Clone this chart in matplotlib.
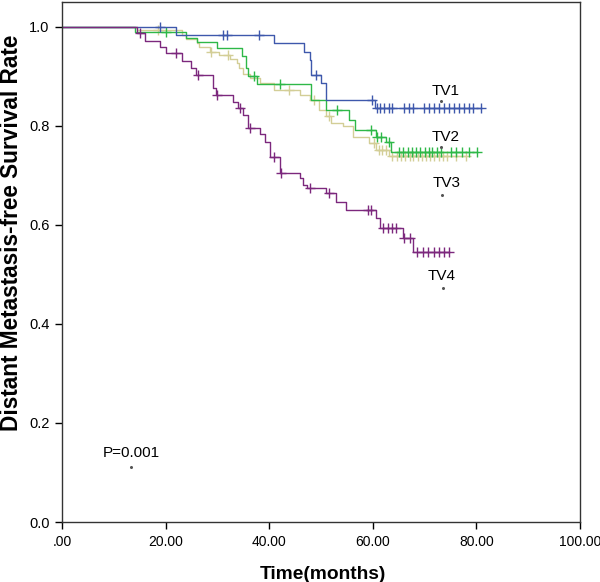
import matplotlib
matplotlib.use("Agg")
import matplotlib.pyplot as plt
import numpy as np

plt.rcParams['font.family'] = ['Liberation Sans', 'DejaVu Sans']

# ---- data ----
groups = ["TV1", "TV2", "TV3", "TV4"]

tv1_t = [22.1, 40.9, 46.8, 47.8, 48.1, 50.0, 51.0, 60.5]
tv1_s = [0.984, 0.967, 0.950, 0.933, 0.903, 0.886, 0.853, 0.836]
tv1_c = [19.0, 31.0, 31.8, 38.0, 49.1, 59.9, 60.8, 61.4, 62.2, 63.1, 63.8, 66.1, 67.0,
         67.7, 69.9, 70.9, 71.9, 72.8, 73.8, 74.8, 75.7, 76.7, 77.7, 78.6, 79.3, 80.9]

tv2_t = [14.1, 24.0, 26.0, 30.0, 34.8, 35.5, 36.0, 37.7, 48.1, 51.0, 55.5, 56.5, 60.6, 62.5, 63.6]
tv2_s = [0.990, 0.978, 0.969, 0.957, 0.940, 0.917, 0.900, 0.884, 0.853, 0.832, 0.812,
         0.792, 0.778, 0.768, 0.748]
tv2_c = [20.0, 37.0, 42.0, 53.0, 59.7, 60.9, 61.6, 63.2, 65.1, 65.9, 66.7, 67.6, 68.4,
         69.1, 70.0, 70.9, 71.5, 72.3, 73.2, 75.1, 76.1, 77.3, 78.6, 80.2]

tv3_t = [14.5, 23.1, 24.0, 26.0, 26.5, 28.5, 30.4, 32.4, 33.7, 34.2, 35.0, 36.2, 38.2,
         41.0, 45.9, 47.8, 49.7, 50.9, 51.9, 54.2, 56.1, 59.3, 60.6, 63.2]
tv3_s = [0.993, 0.984, 0.975, 0.967, 0.960, 0.950, 0.943, 0.935, 0.926, 0.917, 0.905,
         0.896, 0.886, 0.873, 0.862, 0.853, 0.832, 0.819, 0.805, 0.799, 0.778, 0.765,
         0.752, 0.739]
tv3_c = [18.5, 28.8, 32.0, 43.9, 48.7, 51.6, 60.2, 61.2, 61.8, 62.5, 63.8, 64.6, 65.4,
         66.3, 67.1, 67.8, 68.7, 69.5, 70.3, 71.0, 71.9, 72.7, 73.5, 74.4, 76.1, 78.0]

tv4_t = [14.4, 16.0, 18.9, 20.0, 23.1, 25.0, 25.9, 29.2, 29.7, 33.0, 34.0, 34.9, 35.9,
         38.2, 39.1, 40.1, 42.0, 45.9, 46.5, 47.3, 51.0, 52.9, 54.9, 60.6, 61.3, 65.8, 67.7]
tv4_s = [0.987, 0.972, 0.960, 0.947, 0.931, 0.917, 0.903, 0.876, 0.863, 0.849, 0.836,
         0.822, 0.795, 0.784, 0.768, 0.738, 0.704, 0.694, 0.681, 0.674, 0.664, 0.647,
         0.630, 0.613, 0.593, 0.573, 0.546]
tv4_c = [15.0, 22.1, 26.2, 30.0, 34.3, 36.2, 41.0, 42.3, 47.8, 51.6, 59.0, 59.7, 61.9,
         62.9, 63.7, 64.5, 66.0, 67.1, 68.6, 69.6, 70.6, 71.9, 72.8, 73.8, 74.8]

x_ticks = [0, 20, 40, 60, 80, 100]
x_tick_labels = [".00", "20.00", "40.00", "60.00", "80.00", "100.00"]
y_ticks = [0.0, 0.2, 0.4, 0.6, 0.8, 1.0]

p_text = "P=0.001"

colors = {"TV1": "#3E58AC", "TV2": "#2EB848", "TV3": "#D3CE97", "TV4": "#7C287D"}
series = {"TV1": (tv1_t, tv1_s, tv1_c), "TV2": (tv2_t, tv2_s, tv2_c),
          "TV3": (tv3_t, tv3_s, tv3_c), "TV4": (tv4_t, tv4_s, tv4_c)}

# ---- figure ----
fig = plt.figure(figsize=(6.0, 5.82), dpi=100)
ax = fig.add_axes([62/600, 1 - 522/582, (580 - 62)/600, (522 - 2)/582])

for g in ["TV3", "TV2", "TV1", "TV4"]:
    t, s, c = series[g]
    end = max(max(c), max(t))
    xs = np.array([0.0] + list(t) + [end])
    ys = np.array([1.0] + list(s) + [s[-1]])
    ax.step(xs, ys, where="post", color=colors[g], lw=1.0)
    idx = np.searchsorted(np.array(t), np.array(c), side="right")
    cy = np.array([1.0] + list(s))[idx]
    ax.plot(c, cy, linestyle="none", marker="+", markersize=7, mew=1.0, color=colors[g])

ax.set_xlim(0, 100)
ax.set_ylim(0, 1.05)
ax.set_xticks(x_ticks)
ax.set_xticklabels(x_tick_labels)
ax.set_yticks(y_ticks)
ax.set_yticklabels([f"{v:.1f}" for v in y_ticks])
ax.tick_params(direction="out", length=5, width=1, labelsize=10, colors="black", pad=4)
ax.tick_params(axis="y", labelsize=10.5)

for sp in ax.spines.values():
    sp.set_color("#333333")
    sp.set_linewidth(1.0)

ax.set_xlabel("Time(months)", fontsize=13.8, fontweight="bold")
ax.xaxis.set_label_coords(0.504, -0.085)
ax.set_ylabel("Distant Metastasis-free Survival Rate", fontsize=16.3, fontweight="bold",
              va="center")
ax.yaxis.set_label_coords(-0.098, 0.556)

label_pos = {"TV1": (74.0, 0.871), "TV2": (74.0, 0.778), "TV3": (74.3, 0.684), "TV4": (73.2, 0.496)}
dot_pos = {"TV1": (73.2, 0.851), "TV2": (73.2, 0.758), "TV3": (73.4, 0.661), "TV4": (73.6, 0.473)}
for g in groups:
    x, y = label_pos[g]
    ax.text(x, y, g, fontsize=11, ha="center", va="center", color="black")
    dx, dy = dot_pos[g]
    ax.plot([dx], [dy], linestyle="none", marker="o", markersize=1.2, color="#555555")

ax.text(13.3, 0.139, p_text, fontsize=11, ha="center", va="center", color="black")
ax.plot([13.4], [0.112], linestyle="none", marker="o", markersize=1.2, color="#555555")

fig.savefig("out.png", dpi=100, facecolor="white")
